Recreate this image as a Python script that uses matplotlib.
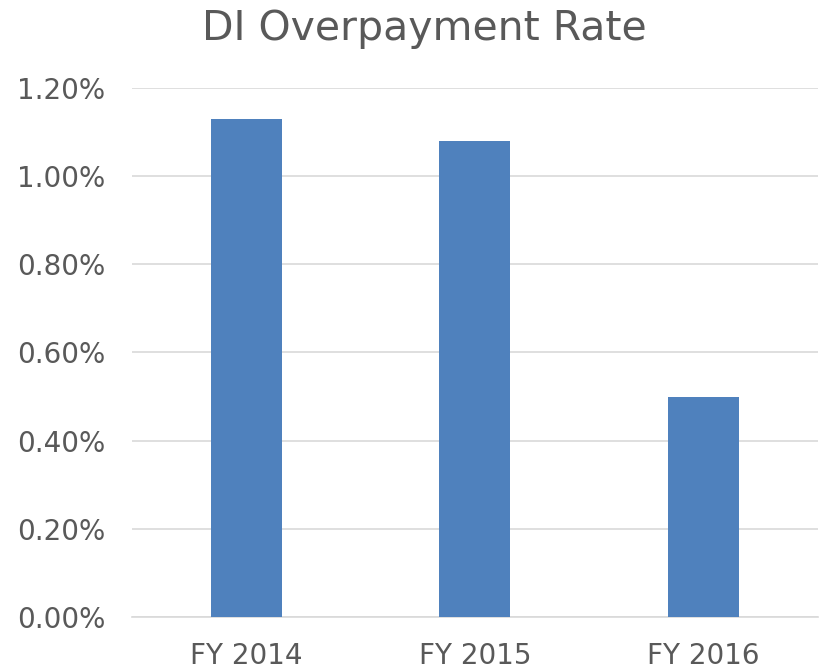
import matplotlib.pyplot as plt
from matplotlib.ticker import FuncFormatter

categories = ['FY 2014', 'FY 2015', 'FY 2016']
rates = [1.13, 1.08, 0.50]
yticks = [0.0, 0.2, 0.4, 0.6, 0.8, 1.0, 1.2]

plt.rcParams['font.family'] = ['DejaVu Sans']
text_color = '#595959'

fig = plt.figure(figsize=(8.23, 6.7), dpi=100)
ax = fig.add_axes([0.160, 0.0791, 0.834, 0.7896])

ax.bar(range(len(categories)), rates, width=0.31, color='#4f81bd', zorder=3)

ax.set_xlim(-0.5, len(categories) - 0.5)
ax.set_ylim(0, 1.2)
ax.set_yticks(yticks)
ax.yaxis.set_major_formatter(FuncFormatter(lambda v, p: f'{v:.2f}%'))
ax.set_xticks(range(len(categories)))
ax.set_xticklabels(categories)

ax.grid(axis='y', color='#d9d9d9', linewidth=1.2, zorder=0)
for side in ['top', 'right', 'left']:
    ax.spines[side].set_visible(False)
ax.spines['bottom'].set_color('#d9d9d9')
ax.spines['bottom'].set_linewidth(1.2)
ax.tick_params(axis='both', length=0, labelsize=20, colors=text_color)
ax.tick_params(axis='y', pad=19)
ax.tick_params(axis='x', pad=18)

fig.text(0.515, 1 - 40 / 670, 'DI Overpayment Rate', fontsize=29.5, color=text_color,
         ha='center', va='baseline')

fig.savefig('out.png', dpi=100)
